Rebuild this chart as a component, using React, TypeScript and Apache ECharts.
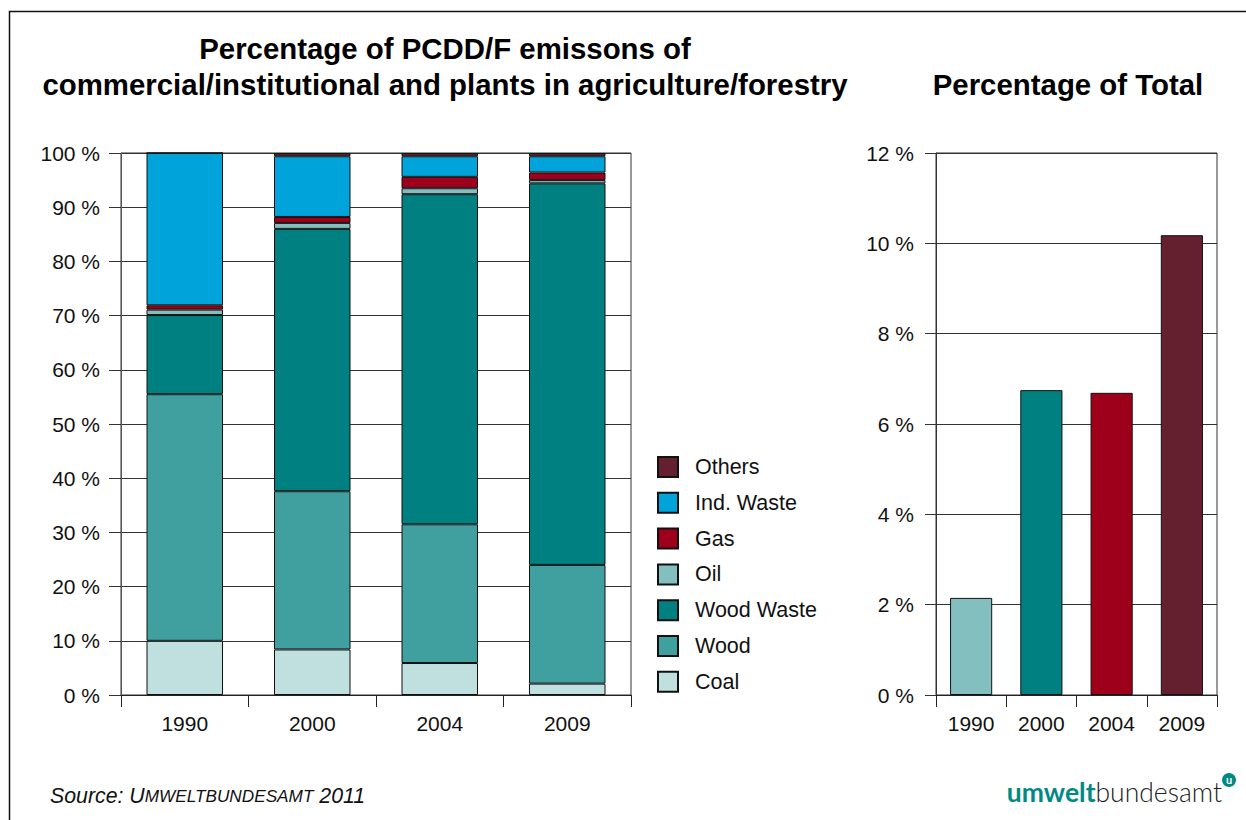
import React, { useEffect, useRef } from "react";
import * as echarts from "echarts";

const years = ["1990", "2000", "2004", "2009"];
const coal = [10.0, 8.4, 5.9, 2.1];
const wood = [45.5, 29.2, 25.6, 21.9];
const woodWaste = [14.6, 48.4, 60.9, 70.4];
const oil = [1.0, 1.1, 1.1, 0.6];
const gas = [0.8, 1.1, 2.1, 1.4];
const indWaste = [28.1, 11.2, 3.8, 3.0];
const others = [0.0, 0.6, 0.6, 0.6];
const totalShare = [2.15, 6.75, 6.69, 10.18];

const seriesNames = ["Coal", "Wood", "Wood Waste", "Oil", "Gas", "Ind. Waste", "Others"];
const seriesData = [coal, wood, woodWaste, oil, gas, indWaste, others];
const seriesColors = ["#c0e0e0", "#40a0a0", "#008080", "#84bfbf", "#9e001b", "#00a3da", "#64202f"];
const totalColors = ["#84bfbf", "#008080", "#9e001b", "#64202f"];

const FONT = "'Liberation Sans', Arial, Helvetica, sans-serif";

export default function App() {
  const ref = useRef<HTMLDivElement>(null);
  useEffect(() => {
    if (!ref.current) return;
    const chart = echarts.init(ref.current, null, { renderer: "svg" });
    const axisLabel = { color: "#111", fontSize: 21, fontFamily: FONT };
    const option: any = {
      animation: false,
      backgroundColor: "#fff",
      textStyle: { fontFamily: FONT },
      legend: {
        orient: "vertical",
        left: 657,
        top: 456,
        padding: 0,
        itemWidth: 20,
        itemHeight: 20,
        itemGap: 13.8,
        icon: "rect",
        data: seriesNames.slice().reverse(),
        textStyle: { color: "#111", fontSize: 21.5, lineHeight: 20, fontFamily: FONT, padding: [0, 0, 0, 12] },
        selectedMode: false,
      },
      grid: [
        { left: 121, top: 153, width: 510, height: 542, show: true, borderColor: "#333", borderWidth: 1, containLabel: false },
        { left: 936, top: 153, width: 281, height: 542, show: true, borderColor: "#333", borderWidth: 1, containLabel: false },
      ],
      xAxis: [
        {
          type: "category",
          gridIndex: 0,
          data: years,
          axisLine: { lineStyle: { color: "#222", width: 1 } },
          axisTick: { show: true, length: 12, lineStyle: { color: "#222" } },
          axisLabel: { ...axisLabel, margin: 18 },
        },
        {
          type: "category",
          gridIndex: 1,
          data: years,
          axisLine: { lineStyle: { color: "#222", width: 1 } },
          axisTick: { show: true, length: 12, lineStyle: { color: "#222" } },
          axisLabel: { ...axisLabel, margin: 18 },
        },
      ],
      yAxis: [
        {
          type: "value",
          gridIndex: 0,
          min: 0,
          max: 100,
          interval: 10,
          axisLine: { show: true, lineStyle: { color: "#555" } },
          axisTick: { show: true, length: 12, lineStyle: { color: "#333" } },
          splitLine: { show: true, lineStyle: { color: "#333", width: 1 } },
          axisLabel: { ...axisLabel, margin: 21, formatter: "{value} %" },
        },
        {
          type: "value",
          gridIndex: 1,
          min: 0,
          max: 12,
          interval: 2,
          axisLine: { show: true, lineStyle: { color: "#333" } },
          axisTick: { show: true, length: 11, lineStyle: { color: "#333" } },
          splitLine: { show: true, lineStyle: { color: "#333", width: 1 } },
          axisLabel: { ...axisLabel, margin: 22, formatter: "{value} %" },
        },
      ],
      series: [
        ...seriesNames.map((name, i) => ({
          name,
          type: "bar",
          stack: "share",
          xAxisIndex: 0,
          yAxisIndex: 0,
          barWidth: "60%",
          data: seriesData[i],
          itemStyle: { color: seriesColors[i], borderColor: "#111", borderWidth: 1 },
        })),
        {
          name: "Total",
          type: "bar",
          xAxisIndex: 1,
          yAxisIndex: 1,
          barWidth: "60%",
          data: totalShare.map((v, i) => ({ value: v, itemStyle: { color: totalColors[i] } })),
          itemStyle: { borderColor: "#111", borderWidth: 1 },
        },
      ],
      graphic: [
        {
          type: "polyline",
          silent: true,
          shape: { points: [[9.5, 830], [9.5, 11.5], [1260, 11.5]] },
          style: { stroke: "#111", lineWidth: 1.5, fill: null },
        },
        {
          type: "text",
          style: {
            text: "Percentage of PCDD/F emissons of",
            x: 445,
            y: 48,
            textAlign: "center",
            textVerticalAlign: "middle",
            font: `bold 29.4px ${FONT}`,
            fill: "#000",
          },
        },
        {
          type: "text",
          style: {
            text: "commercial/institutional and plants in agriculture/forestry",
            x: 445,
            y: 84,
            textAlign: "center",
            textVerticalAlign: "middle",
            font: `bold 29.4px ${FONT}`,
            fill: "#000",
          },
        },
        {
          type: "text",
          style: {
            text: "Percentage of Total",
            x: 1068,
            y: 84,
            textAlign: "center",
            textVerticalAlign: "middle",
            font: `bold 29.4px ${FONT}`,
            fill: "#000",
          },
        },
        {
          type: "text",
          style: {
            text: "{a|Source: U}{b|MWELTBUNDESAMT}{a| 2011}",
            x: 50,
            y: 796,
            textVerticalAlign: "middle",
            rich: {
              a: { fontFamily: FONT, fontStyle: "italic", fontSize: 21.3, fill: "#111", color: "#111" },
              b: { fontFamily: FONT, fontStyle: "italic", fontSize: 17.2, fill: "#111", color: "#111" },
            },
          },
        },
        {
          type: "text",
          style: {
            text: "{a|umwelt}{b|bundesamt}",
            x: 1222,
            y: 792,
            textAlign: "right",
            textVerticalAlign: "middle",
            rich: {
              a: { fontFamily: "Lato, 'Open Sans', sans-serif", fontWeight: "bold", fontSize: 26.5, fill: "#008a84", color: "#008a84" },
              b: { fontFamily: "Lato, 'Open Sans', sans-serif", fontWeight: 300, fontSize: 26.5, fill: "#222", color: "#222" },
            },
          },
        },
        {
          type: "circle",
          shape: { cx: 1229, cy: 780, r: 7 },
          style: { fill: "#008a84" },
        },
        {
          type: "text",
          style: {
            text: "u",
            x: 1229,
            y: 779,
            textAlign: "center",
            textVerticalAlign: "middle",
            font: "bold 11px Lato, sans-serif",
            fill: "#fff",
          },
        },
      ],
    };
    chart.setOption(option);
    return () => chart.dispose();
  }, []);
  return (
    <div
      ref={ref}
      style={{ position: "fixed", left: 0, top: 0, width: 1246, height: 820, background: "#fff" }}
    />
  );
}
